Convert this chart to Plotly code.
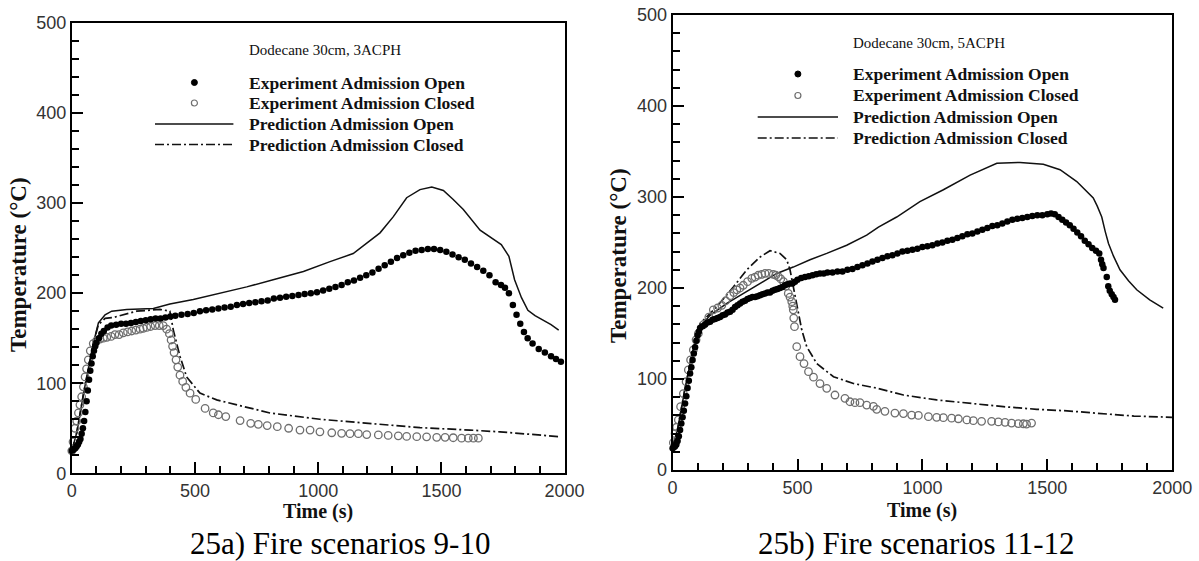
import plotly.graph_objects as go

W, H = 1199, 561

# ---------------- Panel a: Dodecane 30cm, 3ACPH ----------------
a_exp_open_t = [0, 5, 10, 15, 20, 25, 30, 35, 40, 45, 50, 55, 60, 65, 70, 75, 80, 85, 90, 95,
                100, 110, 120, 130, 145, 160, 180, 200, 220, 240, 260, 280, 300, 320, 340, 360,
                380, 400, 420, 445, 470, 495, 520, 545, 570, 595, 620, 645, 670, 695, 720, 745,
                770, 795, 820, 845, 870, 895, 920, 945, 970, 995, 1020, 1045, 1070, 1095, 1120,
                1145, 1170, 1195, 1220, 1245, 1270, 1295, 1320, 1345, 1370, 1395, 1420, 1445,
                1470, 1495, 1520, 1545, 1570, 1595, 1620, 1645, 1670, 1695, 1720, 1742, 1758,
                1774, 1790, 1805, 1820, 1835, 1850, 1870, 1895, 1920, 1945, 1965, 1985]
a_exp_open_T = [25, 26, 27, 28, 30, 32, 35, 38, 44, 50, 58, 68, 80, 92, 104, 114, 122, 130, 136, 141,
                145, 150, 155, 158, 162, 164, 165, 166, 166, 167, 168, 169, 170, 171, 172, 172,
                173, 174, 175, 176, 177, 178, 180, 181, 182, 183, 184, 185, 187, 188, 189, 190,
                191, 192, 194, 195, 196, 197, 198, 199, 200, 201, 203, 205, 207, 209, 212,
                214, 217, 220, 223, 227, 231, 235, 239, 242, 245, 247, 248, 249,
                249, 248, 246, 243, 240, 237, 233, 229, 225, 220, 212, 209, 206,
                200, 187, 176, 166, 157, 150, 144, 138, 134, 130, 127, 124]

a_exp_closed_t = [0, 5, 13, 20, 27, 33, 40, 47, 54, 60, 67, 75, 87, 100, 114, 128, 142, 160, 175,
                  192, 209, 226, 243, 260, 277, 290, 304, 320, 338, 355, 371, 385, 396, 403, 409,
                  415, 423, 430, 439, 450, 463, 480, 503, 541, 574, 595, 625, 683, 726, 757, 793,
                  834, 880, 926, 967, 1007, 1055, 1095, 1129, 1163, 1197, 1244, 1284, 1325, 1359,
                  1400, 1440, 1481, 1515, 1548, 1582, 1609, 1630, 1650]
a_exp_closed_T = [25, 35, 50, 58, 67, 76, 85, 96, 107, 116, 126, 136, 144, 147, 149, 150, 151, 152, 154,
                  154, 156, 157, 158, 159, 160, 161, 162, 163, 164, 164, 164, 160, 155, 148, 141,
                  134, 126, 118, 109, 102, 95.5, 89, 82, 72, 67, 65, 63, 58.5, 55.5, 54.4, 53,
                  51.8, 50, 48, 48, 46, 45, 44.4, 44, 44, 43, 42.6, 42, 41.6, 41,
                  40.7, 40.5, 40, 40, 39.5, 39, 39, 39, 39]

a_pred_open_t = [0, 20, 50, 87, 108, 135, 162, 223, 331, 398, 493, 601, 710, 832, 940, 1048, 1142,
                 1251, 1305, 1359, 1413, 1461, 1508, 1548, 1589, 1657, 1697, 1743, 1774, 1797,
                 1825, 1851, 1880, 1914, 1945, 1976]
a_pred_open_T = [25, 45, 92, 144, 167, 176, 180, 182, 183, 188, 193, 200, 207, 216, 224, 235, 244,
                 267, 285, 306, 315, 318, 314, 304, 293, 270, 263, 254, 241, 215,
                 195, 181, 175, 170, 165, 159]

a_pred_closed_t = [0, 20, 50, 87, 108, 135, 168, 263, 358, 398, 412, 439, 466, 520, 588, 696, 804,
                   1007, 1210, 1413, 1616, 1738, 1979]
a_pred_closed_T = [25, 45, 92, 144, 165, 172, 173, 180, 182, 180, 159, 130, 107, 89, 81.5, 74, 67,
                   60, 55.5, 50.7, 48, 46, 40.7]

# ---------------- Panel b: Dodecane 30cm, 5ACPH ----------------
b_exp_open_t = [0, 5, 10, 15, 20, 25, 30, 35, 40, 45, 50, 55, 60, 65, 70, 75, 80, 85, 90, 95, 100,
                105, 110, 120, 130, 140, 150, 160, 170, 180, 190, 200, 210, 220, 230, 240, 250,
                260, 270, 280, 290, 300, 310, 320, 330, 340, 350, 360, 370, 380, 390, 400, 410,
                420, 430, 440, 450, 460, 470, 480, 490, 500, 515, 530, 545, 560, 575, 590, 605,
                620, 640, 660, 680, 700, 720, 740, 760, 780, 800, 820, 840, 860, 880, 900, 920,
                940, 960, 980, 1000, 1020, 1040, 1060, 1080, 1100, 1120, 1140, 1160, 1180, 1200,
                1220, 1240, 1260, 1280, 1300, 1320, 1340, 1360, 1380, 1400, 1420, 1440, 1460,
                1480, 1500, 1515, 1530, 1545, 1560, 1575, 1590, 1605, 1620, 1635, 1650, 1665,
                1680, 1695, 1708, 1715, 1720, 1725, 1738, 1744, 1750, 1758, 1765, 1771]
b_exp_open_T = [24, 25, 26, 28, 32, 37, 44, 51, 58, 65, 73, 81, 90, 98, 106, 113, 121, 128, 135, 142, 148,
                152, 156, 158, 160, 162, 163, 165, 166, 167, 168, 170, 171, 173, 174, 176, 179,
                181, 183, 185, 186, 188, 189, 190, 190, 191, 192, 193, 194, 195, 195, 197, 198,
                199, 200, 201, 203, 204, 205, 205, 207, 209, 211, 212, 213, 214, 215, 216, 216,
                217, 217, 218, 218, 220, 221, 223, 225, 227, 229, 231, 233, 235, 236, 238, 240,
                241, 242, 243, 245, 246, 247, 249, 250, 252, 253, 255, 257, 259, 260,
                262, 264, 266, 268, 269, 271, 273, 275, 276, 277, 278, 279, 280,
                280, 281, 282, 281, 278, 275, 272, 269, 265, 261, 257, 252, 248,
                244, 241, 238, 231, 226, 222, 212, 202, 197, 193, 190, 187]

b_exp_closed_t = [3, 10, 16, 23, 32, 43, 54, 63, 72, 83, 94, 103, 125, 145, 163, 180, 197, 213, 230,
                  245, 257, 270, 283, 300, 317, 330, 343, 357, 370, 385, 403, 413, 423, 433, 444,
                  453, 463, 470, 477, 481, 483, 485, 488, 497, 510, 526, 544, 564, 590, 617, 650,
                  690, 710, 730, 750, 777, 804, 817, 850, 890, 924, 957, 984, 1024, 1057, 1084,
                  1117, 1144, 1178, 1204, 1237, 1277, 1304, 1331, 1357, 1384, 1404, 1417, 1437]
b_exp_closed_T = [30, 40, 47, 55, 69.6, 84, 97, 110, 121, 132, 143, 150, 160, 168, 176, 178, 181, 186,
                  191.6, 195, 198, 200, 203, 207, 210.6, 212, 214, 215, 216, 216, 215, 214, 212.4,
                  210, 207, 202, 194, 190, 185, 180, 176, 167, 157.5, 135.5, 124.5, 117, 108, 102,
                  95, 89.7, 82.4, 78.8, 75, 74, 74, 71.4, 70, 66.7, 64.5, 62.6, 62, 60.4, 60, 58.6,
                  57.9, 57.5, 57, 56.3, 55, 54.2, 53.5, 53.5, 52.8, 52.4, 51.6, 51, 50.8, 50.5,
                  51.6]

b_pred_open_t = [0, 20, 50, 80, 110, 150, 217, 283, 350, 417, 483, 550, 617, 697, 777, 824, 897,
                 990, 1084, 1191, 1298, 1391, 1484, 1551, 1618, 1684, 1700, 1718, 1732, 1745, 1765,
                 1791, 1825, 1858, 1910, 1964]
b_pred_open_T = [25, 45, 90, 130, 157.5, 170, 183, 194, 205, 216, 223, 231, 238, 247, 258, 267, 278,
                 295, 308, 324, 337, 338, 336, 330, 317, 299, 290, 278, 262, 249, 235,
                 220, 208, 198, 187, 178]

b_pred_closed_t = [0, 20, 50, 80, 110, 177, 243, 297, 350, 390, 430, 457, 470, 483, 497, 517, 537,
                   577, 644, 724, 817, 924, 1057, 1191, 1324, 1458, 1591, 1700, 1847, 1999]
b_pred_closed_T = [25, 45, 90, 130, 161, 179.5, 201, 220, 234, 241, 238, 231, 220, 201, 179.5, 154,
                   135.5, 117, 102.5, 95, 90, 82.4, 77, 73, 69.6, 66.7, 64.8, 62.3, 59.3, 57.9]

legend_labels = ["Experiment Admission Open", "Experiment Admission Closed",
                 "Prediction Admission Open", "Prediction Admission Closed"]
panel_notes = ["Dodecane 30cm, 3ACPH", "Dodecane 30cm, 5ACPH"]
captions = ["25a) Fire scenarios 9-10", "25b) Fire scenarios 11-12"]
x_ticks = [0, 500, 1000, 1500, 2000]
y_ticks = [0, 100, 200, 300, 400, 500]

SERIF = "Liberation Serif, Times New Roman, serif"
SANS = "Liberation Sans, Arial, sans-serif"
DASHDOT = "9px,3px,2px,3px"
GREY = "#6e6e6e"


def px(x):
    return x / W


def py(y):
    return 1 - y / H


# plot frames in page pixels: (left, right, top, bottom)
frames = [(71.8, 564.6, 23.0, 473.3), (672.6, 1172.2, 15.0, 470.0)]

fig = go.Figure()

panels = [
    (a_exp_open_t, a_exp_open_T, a_exp_closed_t, a_exp_closed_T,
     a_pred_open_t, a_pred_open_T, a_pred_closed_t, a_pred_closed_T),
    (b_exp_open_t, b_exp_open_T, b_exp_closed_t, b_exp_closed_T,
     b_pred_open_t, b_pred_open_T, b_pred_closed_t, b_pred_closed_T),
]

for i, (eo_t, eo_T, ec_t, ec_T, po_t, po_T, pc_t, pc_T) in enumerate(panels):
    xa = "x" if i == 0 else "x2"
    ya = "y" if i == 0 else "y2"
    fig.add_trace(go.Scatter(x=pc_t, y=pc_T, mode="lines", xaxis=xa, yaxis=ya,
                             line=dict(color="#111", width=1.7, dash=DASHDOT),
                             name=legend_labels[3], showlegend=False))
    fig.add_trace(go.Scatter(x=po_t, y=po_T, mode="lines", xaxis=xa, yaxis=ya,
                             line=dict(color="#111", width=1.5),
                             name=legend_labels[2], showlegend=False))
    fig.add_trace(go.Scatter(x=ec_t, y=ec_T, mode="markers", xaxis=xa, yaxis=ya,
                             marker=dict(symbol="circle-open", size=7.5, color=GREY,
                                         line=dict(width=1.3, color=GREY)),
                             name=legend_labels[1], showlegend=False, cliponaxis=False))
    fig.add_trace(go.Scatter(x=eo_t, y=eo_T, mode="markers", xaxis=xa, yaxis=ya,
                             marker=dict(symbol="circle", size=6.5, color="#000"),
                             name=legend_labels[0], showlegend=False, cliponaxis=False))

axis_common = dict(
    showline=True, linecolor="#000", linewidth=2, mirror=True,
    showgrid=False, zeroline=False, automargin=False,
    ticks="inside", ticklen=11, tickwidth=2, tickcolor="#000",
    tickfont=dict(family=SANS, size=18, color="#333"),
)

layout_axes = {}
for i, (l, r, t, b) in enumerate(frames):
    sx = "" if i == 0 else "2"
    layout_axes["xaxis" + sx] = dict(
        axis_common, domain=[px(l), px(r)], range=[0, 2000], tickvals=x_ticks,
        anchor="y" + sx,
        minor=dict(dtick=100, ticks="inside", ticklen=7, tickwidth=1.5, tickcolor="#000"),
    )
    layout_axes["yaxis" + sx] = dict(
        axis_common, domain=[py(b), py(t)], range=[0, 500], tickvals=y_ticks,
        anchor="x" + sx,
        minor=dict(dtick=20, ticks="inside", ticklen=7, tickwidth=1.5, tickcolor="#000"),
    )

fig.update_layout(
    width=W, height=H, autosize=False,
    margin=dict(l=0, r=0, t=0, b=0, autoexpand=False),
    paper_bgcolor="white", plot_bgcolor="white",
    showlegend=False,
    **layout_axes,
)

annotations = []
shapes = []

# per-panel positions of text and legend keys (page pixels)
panel_text = [
    dict(note_y=49.5, rows=[82.5, 103.0, 124.0, 144.5], text_x=246.8, sym_x=194.4,
         line_x=(155.0, 233.4), xtitle=(318.2, 512.0), ytitle=(18.0, 265.0), cap=(339.6, 543.0)),
    dict(note_y=42.7, rows=[74.0, 95.5, 117.0, 138.0], text_x=850.7, sym_x=797.9,
         line_x=(757.7, 838.0), xtitle=(922.4, 510.0), ytitle=(619.0, 256.0), cap=(916.5, 543.0)),
]

for i, p in enumerate(panel_text):
    annotations.append(dict(xref="paper", yref="paper", x=px(p["text_x"]), y=py(p["note_y"]),
                            xanchor="left", yanchor="middle", showarrow=False,
                            text=panel_notes[i], font=dict(family=SERIF, size=15, color="#111")))
    for k, lab in enumerate(legend_labels):
        annotations.append(dict(xref="paper", yref="paper", x=px(p["text_x"]), y=py(p["rows"][k]),
                                xanchor="left", yanchor="middle", showarrow=False,
                                text="<b>" + lab + "</b>",
                                font=dict(family=SERIF, size=17.5, color="#111")))
    # legend keys
    shapes.append(dict(type="circle", xref="paper", yref="paper", xsizemode="pixel",
                       ysizemode="pixel", xanchor=px(p["sym_x"]), yanchor=py(p["rows"][0]),
                       x0=-3, x1=3, y0=-3, y1=3, fillcolor="#000", line=dict(color="#000", width=1)))
    shapes.append(dict(type="circle", xref="paper", yref="paper", xsizemode="pixel",
                       ysizemode="pixel", xanchor=px(p["sym_x"]), yanchor=py(p["rows"][1]),
                       x0=-3, x1=3, y0=-3, y1=3, fillcolor="rgba(0,0,0,0)",
                       line=dict(color=GREY, width=1.2)))
    shapes.append(dict(type="line", xref="paper", yref="paper",
                       x0=px(p["line_x"][0]), x1=px(p["line_x"][1]),
                       y0=py(p["rows"][2]), y1=py(p["rows"][2]),
                       line=dict(color="#111", width=1.7)))
    shapes.append(dict(type="line", xref="paper", yref="paper",
                       x0=px(p["line_x"][0]), x1=px(p["line_x"][1]),
                       y0=py(p["rows"][3]), y1=py(p["rows"][3]),
                       line=dict(color="#111", width=1.7, dash=DASHDOT)))
    # axis titles
    annotations.append(dict(xref="paper", yref="paper", x=px(p["xtitle"][0]), y=py(p["xtitle"][1]),
                            xanchor="center", yanchor="middle", showarrow=False,
                            text="<b>Time (s)</b>", font=dict(family=SERIF, size=20, color="#111")))
    annotations.append(dict(xref="paper", yref="paper", x=px(p["ytitle"][0]), y=py(p["ytitle"][1]),
                            xanchor="center", yanchor="middle", showarrow=False, textangle=-90,
                            text="<b>Temperature (°C)</b>",
                            font=dict(family=SERIF, size=23, color="#111")))
    # caption below each panel
    annotations.append(dict(xref="paper", yref="paper", x=px(p["cap"][0]), y=py(p["cap"][1]),
                            xanchor="center", yanchor="middle", showarrow=False,
                            text=captions[i], font=dict(family=SERIF, size=31, color="#000")))

fig.update_layout(annotations=annotations, shapes=shapes)

fig.write_html("out.html")
